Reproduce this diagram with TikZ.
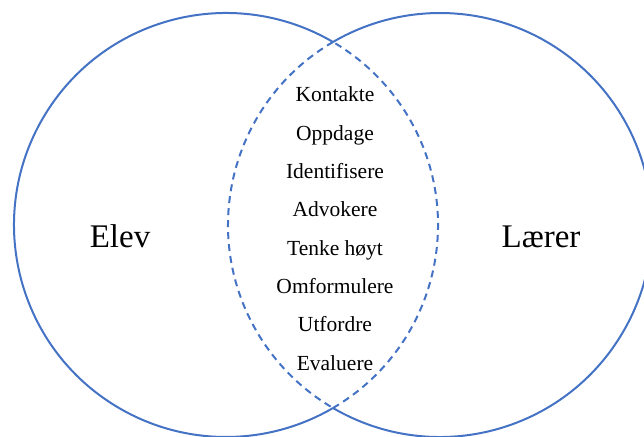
\documentclass[tikz,border=0pt]{standalone}
\usepackage{fontspec}
\setmainfont{Liberation Serif}
\definecolor{ringblue}{HTML}{4472C4}
\begin{document}
\begin{tikzpicture}[x=1pt,y=1pt,
  ring/.style={draw=ringblue, line width=2pt},
  ringdash/.style={ring, dash pattern=on 7pt off 5pt},
  word/.style={anchor=base, inner sep=0pt, font=\fontsize{21.5}{24}\selectfont},
  side/.style={anchor=base, inner sep=0pt, font=\fontsize{33}{36}\selectfont}]
\useasboundingbox (0,0) rectangle (644,436);
\clip (0,0) rectangle (644,436);
\coordinate (L) at (226,211);
\coordinate (R) at (440,211);
% left circle
\draw[ring] (L) ++(59.7:212) arc[start angle=59.7, end angle=300.3, radius=212];
\draw[ringdash] (L) ++(-59.7:212) arc[start angle=-59.7, end angle=59.7, radius=212];
% right circle
\draw[ring] (R) ++(-120.3:212) arc[start angle=-120.3, end angle=120.3, radius=212];
\draw[ringdash] (R) ++(120.3:212) arc[start angle=120.3, end angle=239.7, radius=212];
% labels
\node[side] (elev) at (120,188) {Elev};
\node[side] (laerer) at (541,188) {Lærer};
\node[word] (w1) at (335,334) {Kontakte};
\node[word] (w2) at (335,295.7) {Oppdage};
\node[word] (w3) at (335,257.4) {Identifisere};
\node[word] (w4) at (335,219.1) {Advokere};
\node[word] (w5) at (335,180.8) {Tenke høyt};
\node[word] (w6) at (335,142.5) {Omformulere};
\node[word] (w7) at (335,104.2) {Utfordre};
\node[word] (w8) at (335,65.9) {Evaluere};
\end{tikzpicture}
\end{document}
